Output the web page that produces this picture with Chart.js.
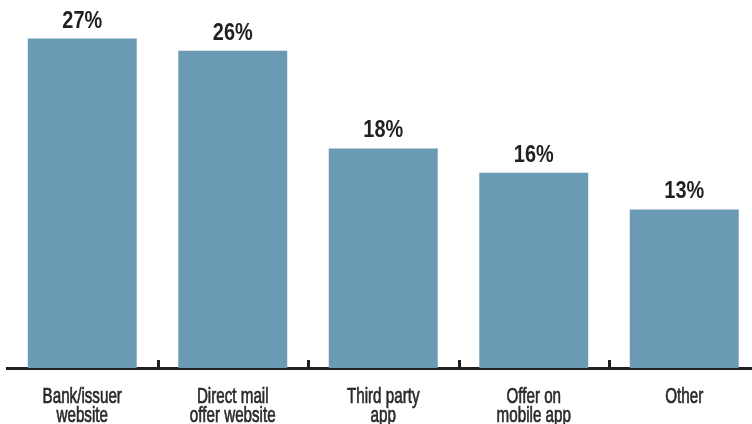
<!DOCTYPE html>
<html>
<head>
<meta charset="utf-8">
<script src="https://cdn.jsdelivr.net/npm/chart.js@4/dist/chart.umd.min.js"></script>
<style>
  html, body { margin: 0; padding: 0; background: #fff; overflow: hidden; }
  #wrap { width: 762px; height: 424px; }
</style>
</head>
<body>
<div id="wrap"><canvas id="bar-chart"></canvas></div>
<script>
const categories = [
  ["Bank/issuer", "website"],
  ["Direct mail", "offer website"],
  ["Third party", "app"],
  ["Offer on", "mobile app"],
  ["Other"]
];
const shares = [27, 26, 18, 16, 13];

const sans = '"Liberation Sans", Arial, sans-serif';

// draw text squeezed horizontally to get a condensed face
function narrowText(ctx, text, x, y, squeeze, weight) {
  ctx.save();
  ctx.translate(x, y);
  ctx.scale(squeeze, 1);
  ctx.fillText(text, 0, 0);
  if (weight) {
    ctx.lineWidth = weight;
    ctx.strokeText(text, 0, 0);
  }
  ctx.restore();
}

// percentage above each bar
const valueLabels = {
  id: 'valueLabels',
  afterDatasetsDraw(chart) {
    const ctx = chart.ctx;
    const meta = chart.getDatasetMeta(0);
    ctx.save();
    ctx.fillStyle = '#231f20';
    ctx.font = 'bold 24px ' + sans;
    ctx.textAlign = 'center';
    ctx.textBaseline = 'alphabetic';
    meta.data.forEach((bar, i) => {
      narrowText(ctx, shares[i] + '%', bar.x, bar.y - 11, 0.83);
    });
    ctx.restore();
  }
};

// category names under the axis, plus short ticks between categories
const axisDecor = {
  id: 'axisDecor',
  afterDraw(chart) {
    const x = chart.scales.x;
    const ctx = chart.ctx;
    const bottom = chart.chartArea.bottom;
    ctx.save();
    ctx.strokeStyle = '#231f20';
    ctx.lineWidth = 3;
    for (let i = 0; i < shares.length - 1; i++) {
      const px = Math.round((x.getPixelForValue(i) + x.getPixelForValue(i + 1)) / 2) + 0.5;
      ctx.beginPath();
      ctx.moveTo(px, bottom + 1);
      ctx.lineTo(px, bottom - 8);
      ctx.stroke();
    }
    ctx.fillStyle = '#2a2a2a';
    ctx.strokeStyle = '#2a2a2a';
    ctx.font = '22px ' + sans;
    ctx.textAlign = 'center';
    ctx.textBaseline = 'alphabetic';
    categories.forEach((lines, i) => {
      const cx = x.getPixelForTick(i);
      lines.forEach((line, j) => {
        narrowText(ctx, line, cx, bottom + 35 + j * 18.5, 0.69, 0.7);
      });
    });
    ctx.restore();
  }
};

new Chart(document.getElementById("bar-chart"), {
  type: 'bar',
  data: {
    labels: categories,
    datasets: [{
      data: shares,
      backgroundColor: '#6b9ab5',
      categoryPercentage: 1,
      barPercentage: 0.724
    }]
  },
  options: {
    responsive: true,
    maintainAspectRatio: false,
    animation: false,
    layout: { padding: { top: 2, left: 7, right: 2.5, bottom: 0 } },
    plugins: {
      legend: { display: false },
      tooltip: { enabled: false }
    },
    scales: {
      y: {
        display: false,
        min: 0,
        max: 30
      },
      x: {
        afterFit(scale) { scale.height = 56; },
        grid: { display: false, drawTicks: false },
        border: { display: true, color: '#231f20', width: 3 },
        ticks: { display: false }
      }
    }
  },
  plugins: [valueLabels, axisDecor]
});
</script>
</body>
</html>
